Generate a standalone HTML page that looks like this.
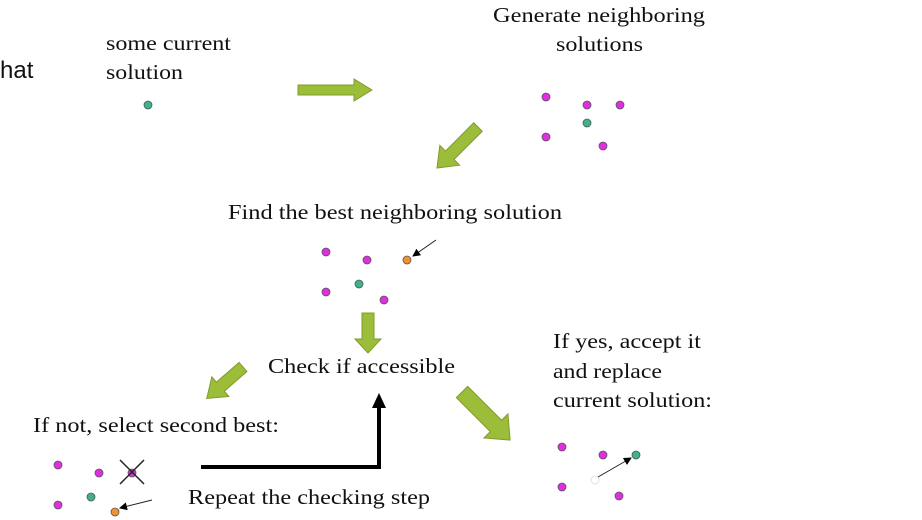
<!DOCTYPE html>
<html><head><meta charset="utf-8"><style>
html,body{margin:0;padding:0;background:#fff;width:922px;height:520px;overflow:hidden}
svg text{font-family:"Liberation Serif",serif;font-size:21px;fill:#111}
</style></head><body>
<svg width="922" height="520" viewBox="0 0 922 520" xmlns="http://www.w3.org/2000/svg">
<defs>
<marker id="ah" markerWidth="8" markerHeight="8" refX="7" refY="4" orient="auto" markerUnits="userSpaceOnUse"><path d="M0,0 L8,4 L0,8 z" fill="#000"/></marker>
</defs>
<text x="0" y="78" style="font-family:'Liberation Sans',sans-serif;font-size:24px">hat</text>
<text x="106" y="50" textLength="125" lengthAdjust="spacingAndGlyphs">some current</text>
<text x="106" y="79" textLength="77" lengthAdjust="spacingAndGlyphs">solution</text>
<text x="493" y="22" textLength="212" lengthAdjust="spacingAndGlyphs">Generate neighboring</text>
<text x="556" y="51" textLength="87" lengthAdjust="spacingAndGlyphs">solutions</text>
<text x="228" y="219" textLength="334" lengthAdjust="spacingAndGlyphs">Find the best neighboring solution</text>
<text x="268" y="373" textLength="187" lengthAdjust="spacingAndGlyphs">Check if accessible</text>
<text x="553" y="348" textLength="148" lengthAdjust="spacingAndGlyphs">If yes, accept it</text>
<text x="553" y="378" textLength="109" lengthAdjust="spacingAndGlyphs">and replace</text>
<text x="553" y="407" textLength="159" lengthAdjust="spacingAndGlyphs">current solution:</text>
<text x="33" y="432" textLength="246" lengthAdjust="spacingAndGlyphs">If not, select second best:</text>
<text x="188" y="504" textLength="242" lengthAdjust="spacingAndGlyphs">Repeat the checking step</text>
<g fill="#9bbd3a" stroke="#7f9c2a" stroke-width="1">
<g transform="translate(298,90)"><polygon points="0,-5 56,-5 56,-11 74,0 56,11 56,5 0,5"/></g>
<g transform="translate(478,127) rotate(135)"><polygon points="0,-6 40,-6 40,-14 58,0 40,14 40,6 0,6"/></g>
<g transform="translate(368,313) rotate(90)"><polygon points="0,-6 26,-6 26,-13 40,0 26,13 26,6 0,6"/></g>
<g transform="translate(243,367) rotate(139)"><polygon points="0,-6 30,-6 30,-13 48,0 30,13 30,6 0,6"/></g>
<g transform="translate(462,392) rotate(45)"><polygon points="0,-8 48,-8 48,-17 68,0 48,17 48,8 0,8"/></g>
</g>
<g stroke="#555" stroke-width="0.8">
<circle cx="148" cy="105" r="4" fill="#3cb38a"/>
<circle cx="546" cy="97" r="4" fill="#e02ee0"/>
<circle cx="587" cy="105" r="4" fill="#e02ee0"/>
<circle cx="620" cy="105" r="4" fill="#e02ee0"/>
<circle cx="587" cy="123" r="4" fill="#3cb38a"/>
<circle cx="546" cy="137" r="4" fill="#e02ee0"/>
<circle cx="603" cy="146" r="4" fill="#e02ee0"/>
<circle cx="326" cy="252" r="4" fill="#e02ee0"/>
<circle cx="367" cy="260" r="4" fill="#e02ee0"/>
<circle cx="407" cy="260" r="4" fill="#f0922e"/>
<circle cx="359" cy="284" r="4" fill="#3cb38a"/>
<circle cx="326" cy="292" r="4" fill="#e02ee0"/>
<circle cx="384" cy="300" r="4" fill="#e02ee0"/>
<circle cx="58" cy="465" r="4" fill="#e02ee0"/>
<circle cx="99" cy="473" r="4" fill="#e02ee0"/>
<circle cx="132" cy="473" r="4" fill="#e02ee0"/>
<circle cx="91" cy="497" r="4" fill="#3cb38a"/>
<circle cx="58" cy="505" r="4" fill="#e02ee0"/>
<circle cx="115" cy="512" r="4" fill="#f0922e"/>
<circle cx="562" cy="447" r="4" fill="#e02ee0"/>
<circle cx="603" cy="455" r="4" fill="#e02ee0"/>
<circle cx="636" cy="455" r="4" fill="#3cb38a"/>
<circle cx="562" cy="487" r="4" fill="#e02ee0"/>
<circle cx="619" cy="496" r="4" fill="#e02ee0"/>
<circle cx="595" cy="480" r="4" fill="#fff" stroke="#ddd"/>
</g>
<line x1="120" y1="460" x2="144" y2="484" stroke="#222" stroke-width="1.5"/>
<line x1="144" y1="460" x2="120" y2="484" stroke="#222" stroke-width="1.5"/>
<line x1="436" y1="240" x2="413" y2="256" stroke="#222" stroke-width="1" marker-end="url(#ah)"/>
<line x1="152" y1="500" x2="120" y2="508" stroke="#222" stroke-width="1" marker-end="url(#ah)"/>
<line x1="598" y1="477" x2="631" y2="458" stroke="#222" stroke-width="1" marker-end="url(#ah)"/>
<polyline points="201,467 379,467 379,405" fill="none" stroke="#000" stroke-width="4"/>
<polygon points="372,408 386,408 379,393" fill="#000"/>
</svg>
</body></html>
